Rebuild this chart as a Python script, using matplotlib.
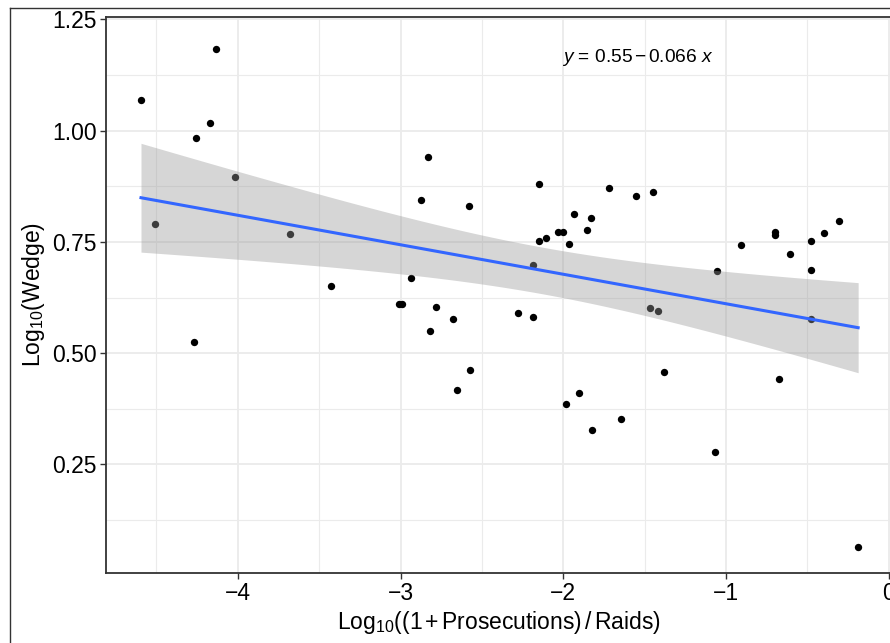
import numpy as np
import matplotlib
matplotlib.use("Agg")
import matplotlib.pyplot as plt
from matplotlib.lines import Line2D

plt.rcParams['font.family'] = ['Liberation Sans', 'DejaVu Sans']
plt.rcParams['mathtext.fontset'] = 'custom'
plt.rcParams['mathtext.rm'] = 'Liberation Sans'
plt.rcParams['mathtext.it'] = 'Liberation Sans:italic'
plt.rcParams['mathtext.bf'] = 'Liberation Sans:bold'

# ---- data ----
log_ratio = [-4.595, -4.506, -4.133, -4.172, -4.255, -4.018, -4.271, -3.680,
             -3.428, -3.012, -2.994, -2.937, -2.873, -2.830, -2.818, -2.781,
             -2.679, -2.654, -2.575, -2.578, -2.280, -2.189, -2.188, -2.151,
             -2.151, -2.109, -2.032, -2.003, -1.985, -1.966, -1.937, -1.905,
             -1.854, -1.830, -1.825, -1.718, -1.648, -1.552, -1.466, -1.417,
             -1.449, -1.382, -1.069, -1.057, -0.906, -0.701, -0.701, -0.673,
             -0.606, -0.480, -0.480, -0.480, -0.400, -0.304, -0.188]
log_wedge = [1.069, 0.790, 1.184, 1.016, 0.983, 0.895, 0.524, 0.768,
             0.651, 0.611, 0.611, 0.669, 0.844, 0.941, 0.549, 0.603,
             0.576, 0.417, 0.462, 0.830, 0.591, 0.582, 0.698, 0.879,
             0.753, 0.759, 0.771, 0.771, 0.385, 0.746, 0.813, 0.411,
             0.776, 0.804, 0.327, 0.870, 0.353, 0.854, 0.602, 0.594,
             0.863, 0.458, 0.277, 0.684, 0.742, 0.771, 0.765, 0.443,
             0.722, 0.751, 0.687, 0.576, 0.769, 0.797, 0.065]

x_ticks = [-4, -3, -2, -1, 0]
y_ticks = [0.25, 0.50, 0.75, 1.00, 1.25]
eq_label = r'$y$ = 0.55$\,$−$\,$0.066 $x$'

x = np.array(log_ratio)
y = np.array(log_wedge)

# ---- linear fit with 95% CI (like geom_smooth(method="lm")) ----
n = len(x)
X = np.column_stack([np.ones(n), x])
beta, *_ = np.linalg.lstsq(X, y, rcond=None)
resid = y - X @ beta
s2 = resid @ resid / (n - 2)
XtX_inv = np.linalg.inv(X.T @ X)
xs = np.linspace(x.min(), x.max(), 200)
Xs = np.column_stack([np.ones_like(xs), xs])
fit = Xs @ beta
se = np.sqrt(np.einsum('ij,jk,ik->i', Xs, XtX_inv, Xs) * s2)
tval = 2.005
lo, hi = fit - tval * se, fit + tval * se

# ---- figure ----
W, H = 890, 643
fig = plt.figure(figsize=(W / 100, H / 100), dpi=100)
fig.patch.set_facecolor('white')

# outer border (figure is cropped on right/bottom)
fig.add_artist(Line2D([9.5 / W, 9.5 / W], [0, 1 - 7.5 / H], transform=fig.transFigure,
                      color='#333333', lw=1.0))
fig.add_artist(Line2D([9.5 / W, 1.0], [1 - 7.5 / H, 1 - 7.5 / H], transform=fig.transFigure,
                      color='#333333', lw=1.0))

left, right = 106, 892
top, bottom = 16.7, 572.7
ax = fig.add_axes([left / W, 1 - bottom / H, (right - left) / W, (bottom - top) / H])
ax.set_xlim(-4.81, 0.02)
ax.set_ylim(0.007, 1.2556)

ax.set_xticks(x_ticks)
ax.set_xticks([-4.5, -3.5, -2.5, -1.5, -0.5], minor=True)
ax.set_yticks(y_ticks)
ax.set_yticks([0.125, 0.375, 0.625, 0.875, 1.125], minor=True)
ax.set_yticklabels([f'{v:.2f}' for v in y_ticks])
ax.set_xticklabels(['−4', '−3', '−2', '−1', '0'])

ax.grid(which='major', color='#EBEBEB', lw=1.3, zorder=0)
ax.grid(which='minor', color='#EBEBEB', lw=0.8, zorder=0)
ax.set_axisbelow(True)

ax.tick_params(which='major', direction='out', length=4, width=1.0, color='#333333',
               labelsize=16.5, labelcolor='black', pad=2.5)
ax.tick_params(which='minor', length=0)

for side in ['left', 'bottom', 'top', 'right']:
    ax.spines[side].set_color('#333333')
    ax.spines[side].set_linewidth(1.3)

ax.scatter(x, y, s=28, color='black', linewidths=0, zorder=2)
ax.fill_between(xs, lo, hi, color='#999999', alpha=0.4, linewidth=0, zorder=3)
ax.plot(xs, fit, color='#3366FF', lw=2.2, zorder=4)

ax.text(-1.545, 1.165, eq_label, ha='center', va='center', fontsize=13.8, color='black', zorder=5)

ax.set_xlabel(r'Log$_{10}$((1$\,$+$\,$Prosecutions)$\,$/$\,$Raids)', fontsize=16.5, labelpad=3)
ax.set_ylabel(r'Log$_{10}$(Wedge)', fontsize=16.5, labelpad=4)

fig.savefig('out.png', dpi=100, facecolor='white')
